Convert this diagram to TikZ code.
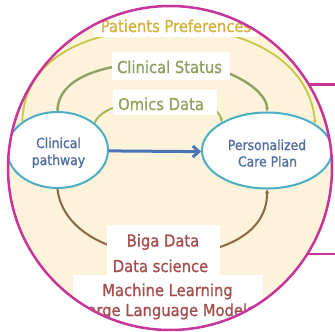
\documentclass[tikz,border=0pt]{standalone}
\usepackage{fontspec}
\usetikzlibrary{shapes.geometric,arrows.meta}
\newfontfamily\labfont[FakeBold=1]{DejaVu Sans Condensed}
\definecolor{cream}{HTML}{FDF2DA}
\definecolor{lensmag}{HTML}{C8359A}
\definecolor{yarc}{HTML}{C9C545}
\definecolor{garc}{HTML}{8FA267}
\definecolor{oarc}{HTML}{A6B85C}
\definecolor{barc}{HTML}{8A6748}
\definecolor{ovalteal}{HTML}{4BAEC2}
\definecolor{flowblue}{HTML}{4A74B8}
\definecolor{pptext}{HTML}{D4B13A}
\definecolor{cstext}{HTML}{8E9E60}
\definecolor{omtext}{HTML}{94A45E}
\definecolor{bottext}{HTML}{A44F4E}
\definecolor{elltext}{HTML}{4F6D9E}
\begin{document}
\begin{tikzpicture}[x=1pt,y=-1pt,
  bigtext/.style={font=\labfont\fontsize{16.4}{20}\selectfont, anchor=base, inner sep=0pt},
  smalltext/.style={font=\labfont\fontsize{13.8}{16}\selectfont, anchor=base, inner sep=0pt, text=elltext},
  whitebox/.style={rectangle, fill=white, draw=none, inner sep=0pt},
  oval/.style={ellipse, draw=ovalteal, line width=2pt, fill=white, inner sep=0pt},
  arcline/.style={line width=2pt, -{Stealth[length=4pt,width=4pt]}}]
\useasboundingbox (0,0) rectangle (335,332);
\fill[white] (0,0) rectangle (335,332);
\node[circle, minimum size=324pt, inner sep=0pt, fill=cream] (lens) at (170,168) {};
\begin{scope}
\clip (lens.center) circle[radius=162pt];
\node[oval, minimum width=101pt, minimum height=76pt] (cp) at (57.5,150) {};
\node[oval, minimum width=130pt, minimum height=76pt] (pcp) at (267,150.5) {};
% arcs
\draw[arcline, yarc, line width=1.8pt] (cp.141) .. controls (25,50) and (100,28) .. (175,28)
   .. controls (245,28) and (310,60) .. (pcp.29);
\draw[arcline, garc, line width=2.4pt] (cp.90) .. controls (58,75) and (110,62) .. (170,62)
   .. controls (225,62) and (268,90) .. (pcp.90);
\draw[arcline, oarc] (cp.36) .. controls (100,108) and (130,100) .. (165,100)
   .. controls (200,100) and (220,108) .. (pcp.148);
\draw[arcline, barc] (cp.270) .. controls (62,230) and (110,255) .. (165,255)
   .. controls (220,255) and (268,235) .. (pcp.270);
% white boxes
\node[whitebox, minimum width=163pt, minimum height=32pt] (ppbox) at (175.5,21) {};
\node[whitebox, minimum width=118pt, minimum height=28pt] (csbox) at (171,66) {};
\node[whitebox, minimum width=104pt, minimum height=25pt] (ombox) at (165,102.5) {};
\node[whitebox, minimum width=113pt, minimum height=51pt] (bbox1) at (163.5,250.5) {};
\node[whitebox, minimum width=190pt, minimum height=60pt] (bbox2) at (168,305) {};
% texts
\node[bigtext, text=pptext] (pp) at (176,32) {Patients Preferences};
\node[bigtext, text=cstext] (cs) at (169.5,73) {Clinical Status};
\node[bigtext, text=omtext] (om) at (161,110) {Omics Data};
\node[bigtext, text=bottext] (b1) at (163,246.5) {Biga Data};
\node[bigtext, text=bottext] (b2) at (160.5,272) {Data science};
\node[bigtext, text=bottext] (b3) at (167.5,296) {Machine Learning};
\node[bigtext, text=bottext] (b4) at (167,316) {Large Language Models};
\node[smalltext] (e1) at (58.5,148) {Clinical};
\node[smalltext] (e2) at (58.5,165) {pathway};
\node[smalltext] (e3) at (267,150) {Personalized};
\node[smalltext] (e4) at (267.5,166.5) {Care Plan};
% main arrow
\draw[flowblue, line width=3pt, -{Straight Barb[length=6pt,width=11pt]}] (cp.-1) -- (pcp.181);
\end{scope}
\draw[lensmag, line width=2.5pt] (lens.center) circle[radius=162pt];
\coordinate (rim) at (335,0);
\draw[lensmag, line width=2.5pt] (lens.31.2) -- (lens.31.2 -| rim);
\draw[lensmag, line width=2.5pt] (lens.-32) -- (lens.-32 -| rim);
\end{tikzpicture}
\end{document}
